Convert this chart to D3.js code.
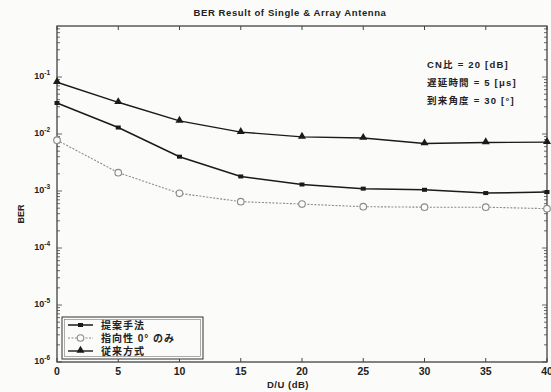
<!DOCTYPE html>
<html>
<head>
<meta charset="utf-8">
<script src="https://cdn.jsdelivr.net/npm/d3@7"></script>
<style>
  body { margin: 0; background: #fbfbf9; }
  text { font-family: "Liberation Sans", "Noto Sans CJK JP", sans-serif; fill: #222; }
</style>
</head>
<body>
<svg id="chart" width="551" height="392"></svg>
<script>
// D/U (dB)
const du = [0, 5, 10, 15, 20, 25, 30, 35, 40];
// BER series
const proposed = [0.035, 0.013, 0.004, 0.0018, 0.0013, 0.0011, 0.00105, 0.00092, 0.00096];
const directivityOnly = [0.0078, 0.0021, 0.00091, 0.00065, 0.00059, 0.00053, 0.00052, 0.00052, 0.00049];
const conventional = [0.081, 0.036, 0.017, 0.0108, 0.0089, 0.0085, 0.0068, 0.0071, 0.0072];
const seriesNames = ['提案手法', '指向性 0° のみ', '従来方式'];
const xTicks = [0, 5, 10, 15, 20, 25, 30, 35, 40];
const yExps = [-1, -2, -3, -4, -5, -6];
const notes = ['CN比  = 20 [dB]', '遅延時間 = 5 [μs]', '到来角度 = 30 [°]'];

const svg = d3.select('#chart');
const mLeft = 57, mRight = 547, mTop = 26, mBottom = 362;

const x = d3.scaleLinear().domain([0, 40]).range([mLeft, mRight]);
const y = d3.scaleLog().domain([1e-6, Math.pow(10, -6 + (mBottom - mTop) / 57)]).range([mBottom, mTop]);

// frame
svg.append('rect')
    .attr('x', mLeft).attr('y', mTop)
    .attr('width', mRight - mLeft).attr('height', mBottom - mTop)
    .attr('fill', 'none').attr('stroke', '#333').attr('stroke-width', 1.2);

// log ticks (major + minor) on left and right
const minor = [];
for (let e = -6; e < 0; e++) {
    for (let m = 1; m < 10; m++) {
        const v = m * Math.pow(10, e);
        if (v <= y.domain()[1]) minor.push(v);
    }
}
const isMajor = d => Math.abs(Math.log10(d) - Math.round(Math.log10(d))) < 1e-9;
svg.append('g').selectAll('line')
    .data(minor).enter().append('line')
    .attr('x1', mLeft).attr('x2', d => mLeft + (isMajor(d) ? 5 : 3))
    .attr('y1', d => y(d)).attr('y2', d => y(d))
    .attr('stroke', '#444').attr('stroke-width', 0.8);
svg.append('g').selectAll('line')
    .data(minor).enter().append('line')
    .attr('x1', mRight).attr('x2', d => mRight - (isMajor(d) ? 5 : 3))
    .attr('y1', d => y(d)).attr('y2', d => y(d))
    .attr('stroke', '#444').attr('stroke-width', 0.8);

// x ticks top and bottom
svg.append('g').selectAll('line')
    .data(xTicks).enter().append('line')
    .attr('x1', d => x(d)).attr('x2', d => x(d))
    .attr('y1', mBottom).attr('y2', mBottom - 4)
    .attr('stroke', '#444');
svg.append('g').selectAll('line')
    .data(xTicks).enter().append('line')
    .attr('x1', d => x(d)).attr('x2', d => x(d))
    .attr('y1', mTop).attr('y2', mTop + 4)
    .attr('stroke', '#444');

// x tick labels
svg.append('g').selectAll('text')
    .data(xTicks).enter().append('text')
    .attr('x', d => x(d)).attr('y', mBottom + 13)
    .attr('text-anchor', 'middle')
    .style('font-size', '10.5px').style('font-weight', 'bold')
    .text(d => d);

// y tick labels 10^-n
const yl = svg.append('g').selectAll('text')
    .data(yExps).enter().append('text')
    .attr('x', mLeft - 7).attr('y', d => y(Math.pow(10, d)) + 2)
    .attr('text-anchor', 'end')
    .style('font-size', '9px').style('font-weight', 'bold');
yl.append('tspan').text('10');
yl.append('tspan').attr('dy', -4).style('font-size', '6.5px').text(d => d);

// axis titles
svg.append('text')
    .attr('x', 290).attr('y', 16)
    .attr('text-anchor', 'middle')
    .style('font-size', '9.5px').style('font-weight', 'bold')
    .style('letter-spacing', '0.6px')
    .text('BER Result of Single & Array Antenna');
svg.append('text')
    .attr('x', 288).attr('y', 388)
    .attr('text-anchor', 'middle')
    .style('font-size', '9.5px').style('font-weight', 'bold')
    .style('letter-spacing', '0.5px')
    .text('D/U (dB)');
svg.append('text')
    .attr('transform', 'translate(24,' + ((mTop + mBottom) / 2 + 20) + ') rotate(-90)')
    .attr('text-anchor', 'middle')
    .style('font-size', '9px').style('font-weight', 'bold')
    .text('BER');

// notes
svg.append('g').selectAll('text')
    .data(notes).enter().append('text')
    .attr('x', 427).attr('y', (d, i) => 68 + i * 18)
    .style('font-size', '9.5px').style('font-weight', 'bold')
    .style('letter-spacing', '1.2px')
    .text(d => d);

// series
const line = d3.line().x((d, i) => x(du[i])).y(d => y(d));
const series = [
    { name: seriesNames[0], values: proposed, color: '#1a1a1a', width: 1.5, dash: null, mark: 'square' },
    { name: seriesNames[1], values: directivityOnly, color: '#8a8a8a', width: 1.1, dash: '2,1.5', mark: 'circle' },
    { name: seriesNames[2], values: conventional, color: '#1a1a1a', width: 1.4, dash: null, mark: 'triangle' }
];

function drawMark(g, type, cx, cy, color) {
    if (type === 'square') {
        g.append('rect').attr('x', cx - 2.5).attr('y', cy - 2).attr('width', 5).attr('height', 4)
            .attr('fill', color);
    } else if (type === 'circle') {
        g.append('circle').attr('cx', cx).attr('cy', cy).attr('r', 3.3)
            .attr('fill', '#fbfbf9').attr('stroke', color).attr('stroke-width', 1.1);
    } else {
        g.append('path').attr('d', d3.symbol(d3.symbolTriangle, 28)())
            .attr('transform', 'translate(' + cx + ',' + (cy - 0.5) + ')')
            .attr('fill', color);
    }
}

series.forEach(s => {
    svg.append('path')
        .datum(s.values)
        .attr('d', line)
        .attr('fill', 'none')
        .attr('stroke', s.color)
        .attr('stroke-width', s.width)
        .attr('stroke-dasharray', s.dash);
    const g = svg.append('g');
    s.values.forEach((v, i) => drawMark(g, s.mark, x(du[i]), y(v), s.color));
});

// legend
const lg = svg.append('g');
lg.append('rect').attr('x', 62).attr('y', 317).attr('width', 141).attr('height', 42)
    .attr('fill', '#fbfbf9').attr('stroke', '#333').attr('stroke-width', 1);
lg.append('rect').attr('x', 64.5).attr('y', 319.5).attr('width', 136).attr('height', 37)
    .attr('fill', 'none').attr('stroke', '#777').attr('stroke-width', 0.6);
series.forEach((s, i) => {
    const ly = 325 + i * 13;
    lg.append('line').attr('x1', 68).attr('x2', 93).attr('y1', ly).attr('y2', ly)
        .attr('stroke', s.color).attr('stroke-width', s.width)
        .attr('stroke-dasharray', s.dash);
    drawMark(lg, s.mark, 80.5, ly, s.color);
    lg.append('text').attr('x', 101).attr('y', ly + 4)
        .style('font-size', '10px').style('font-weight', 'bold')
        .style('letter-spacing', '1px')
        .text(s.name);
});
</script>
</body>
</html>
